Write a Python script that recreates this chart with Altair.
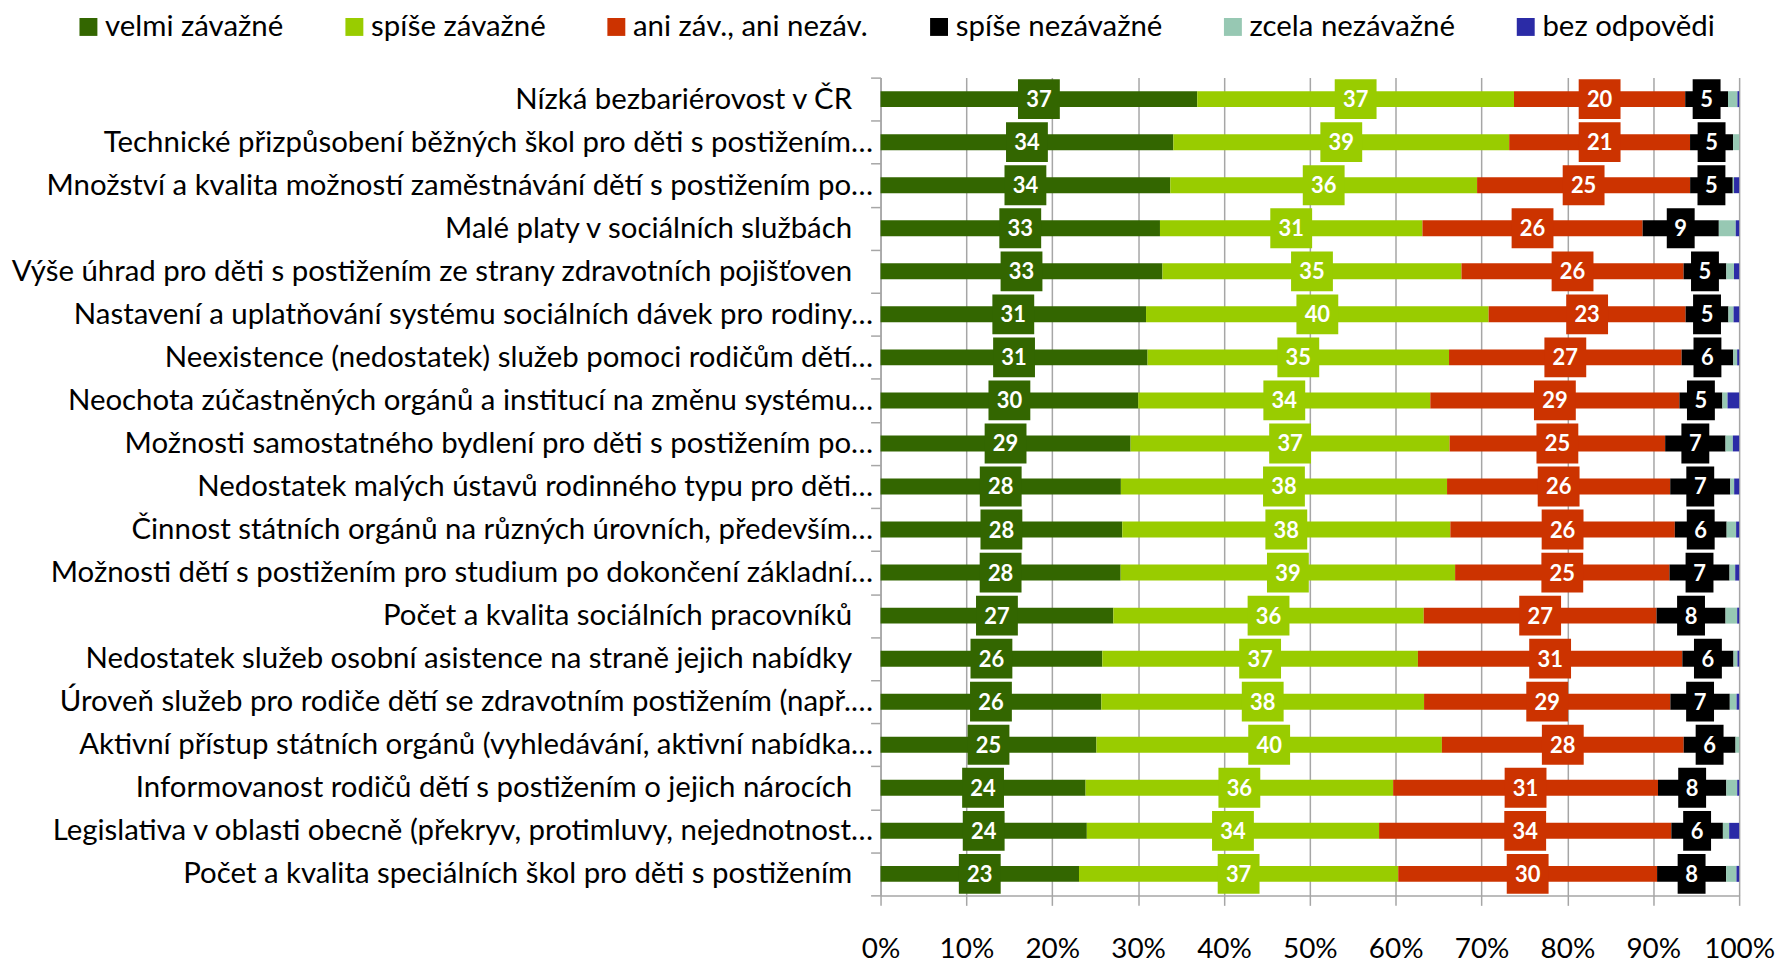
import altair as alt
import pandas as pd

categories = [
    "Nízká bezbariérovost v ČR",
    "Technické přizpůsobení běžných škol pro děti s postižením…",
    "Množství a kvalita možností zaměstnávání dětí s postižením po…",
    "Malé platy v sociálních službách",
    "Výše úhrad pro děti s postižením ze strany zdravotních pojišťoven",
    "Nastavení a uplatňování systému sociálních dávek pro rodiny…",
    "Neexistence (nedostatek) služeb pomoci rodičům dětí…",
    "Neochota zúčastněných orgánů a institucí na změnu systému…",
    "Možnosti samostatného bydlení pro děti s postižením po…",
    "Nedostatek malých ústavů rodinného typu pro děti…",
    "Činnost státních orgánů na různých úrovních, především…",
    "Možnosti dětí s postižením pro studium po dokončení základní…",
    "Počet a kvalita sociálních pracovníků",
    "Nedostatek služeb osobní asistence na straně jejich nabídky",
    "Úroveň služeb pro rodiče dětí se zdravotním postižením (např.…",
    "Aktivní přístup státních orgánů (vyhledávání, aktivní nabídka…",
    "Informovanost rodičů dětí s postižením o jejich nárocích",
    "Legislativa v oblasti obecně (překryv, protimluvy, nejednotnost…",
    "Počet a kvalita speciálních škol pro děti s postižením",
]

series = ["velmi závažné", "spíše závažné", "ani záv., ani nezáv.",
          "spíše nezávažné", "zcela nezávažné", "bez odpovědi"]
colors = ["#336600", "#99CC00", "#CC3300", "#000000", "#97C8B3", "#2B2BA6"]

velmi = [37, 34, 34, 33, 33, 31, 31, 30, 29, 28, 28, 28, 27, 26, 26, 25, 24, 24, 23]
spise = [37, 39, 36, 31, 35, 40, 35, 34, 37, 38, 38, 39, 36, 37, 38, 40, 36, 34, 37]
ani = [20, 21, 25, 26, 26, 23, 27, 29, 25, 26, 26, 25, 27, 31, 29, 28, 31, 34, 30]
spise_nez = [5, 5, 5, 9, 5, 5, 6, 5, 7, 7, 6, 7, 8, 6, 7, 6, 8, 6, 8]
zcela = [1.1, 0.7, 0.15, 2.0, 0.9, 0.6, 0.45, 0.6, 0.85, 0.45, 1.1, 0.66, 1.35, 0.46, 0.8, 0.42, 1.27, 0.73, 1.2]
bez = [0.2, 0.0, 0.6, 0.4, 0.6, 0.65, 0.23, 1.35, 0.73, 0.58, 0.35, 0.46, 0.23, 0.2, 0.3, 0.0, 0.23, 1.16, 0.31]

all_values = [velmi, spise, ani, spise_nez, zcela, bez]

rows = []
for i, cat in enumerate(categories):
    vals = [s[i] for s in all_values]
    total = sum(vals)
    cum = 0.0
    for j, name in enumerate(series):
        v = vals[j]
        cum += v
        rows.append({
            "category": cat,
            "series": name,
            "order": j,
            "value": v,
            "mid": (cum - v / 2) / total,
            "label": str(int(round(v))),
            "digits": str(len(str(int(round(v))))),
        })
df = pd.DataFrame(rows)
lab = df[df["order"] < 4]

gray = "#a6a6a6"
font = "Lato"

x_axis = alt.Axis(
    format=".0%", values=[i / 10 for i in range(11)], grid=True,
    gridColor=gray, gridWidth=1.5, domainColor=gray, domainWidth=1.5,
    tickColor=gray, tickWidth=1.5, tickSize=10, labelFont=font,
    labelFontSize=28, labelColor="black", labelPadding=30, labelFlush=False,
    title=None,
)
y_axis = alt.Axis(
    title=None, tickBand="extent", tickSize=10, tickColor=gray, tickWidth=1.5,
    domainColor=gray, domainWidth=1.5, labelFont=font, labelFontSize=29.5,
    labelColor="black", labelLimit=900, minExtent=876, maxExtent=876,
    labelPadding={"condition": {"test": "indexof(datum.label, '…') >= 0", "value": -2}, "value": 19},
    grid=False,
)
y_enc = alt.Y("category:N", sort=categories, title=None, axis=y_axis,
              scale=alt.Scale(paddingInner=0, paddingOuter=0))

bars = alt.Chart(df).mark_bar(size=16).encode(
    y=y_enc,
    x=alt.X("value:Q", stack="normalize", scale=alt.Scale(domain=[0, 1]), axis=x_axis, title=None),
    color=alt.Color(
        "series:N", scale=alt.Scale(domain=series, range=colors),
        legend=alt.Legend(
            orient="none", legendX=-810, legendY=-66, direction="horizontal",
            columns=6, symbolType="square", symbolSize=324, symbolStrokeWidth=0,
            labelFont=font, labelFontSize=29.5, labelColor="black",
            columnPadding=56, labelOffset=2, title=None, padding=0, labelLimit=400,
        ),
    ),
    order=alt.Order("order:Q"),
)

box2 = "M-1.05,-1H1.05V1H-1.05Z"
box1 = "M-0.7,-1H0.7V1H-0.7Z"

boxes = alt.Chart(lab).mark_point(filled=True, opacity=1, size=1600, strokeWidth=0).encode(
    y=alt.Y("category:N", sort=categories),
    x=alt.X("mid:Q"),
    fill=alt.Fill("series:N", scale=alt.Scale(domain=series, range=colors), legend=None),
    shape=alt.Shape("digits:N", scale=alt.Scale(domain=["1", "2"], range=[box1, box2]), legend=None),
)

texts = alt.Chart(lab).mark_text(
    color="white", fontWeight="bold", font=font, fontSize=22,
    baseline="middle", align="center", dy=1,
).encode(
    y=alt.Y("category:N", sort=categories),
    x=alt.X("mid:Q"),
    text="label:N",
)

chart = alt.layer(bars, boxes, texts).properties(
    width=862, height=821,
    padding={"left": 0, "top": 2, "right": 0, "bottom": 0},
).configure_view(stroke=None)

chart.save("out.html", embed_options={"renderer": "svg", "actions": False})
